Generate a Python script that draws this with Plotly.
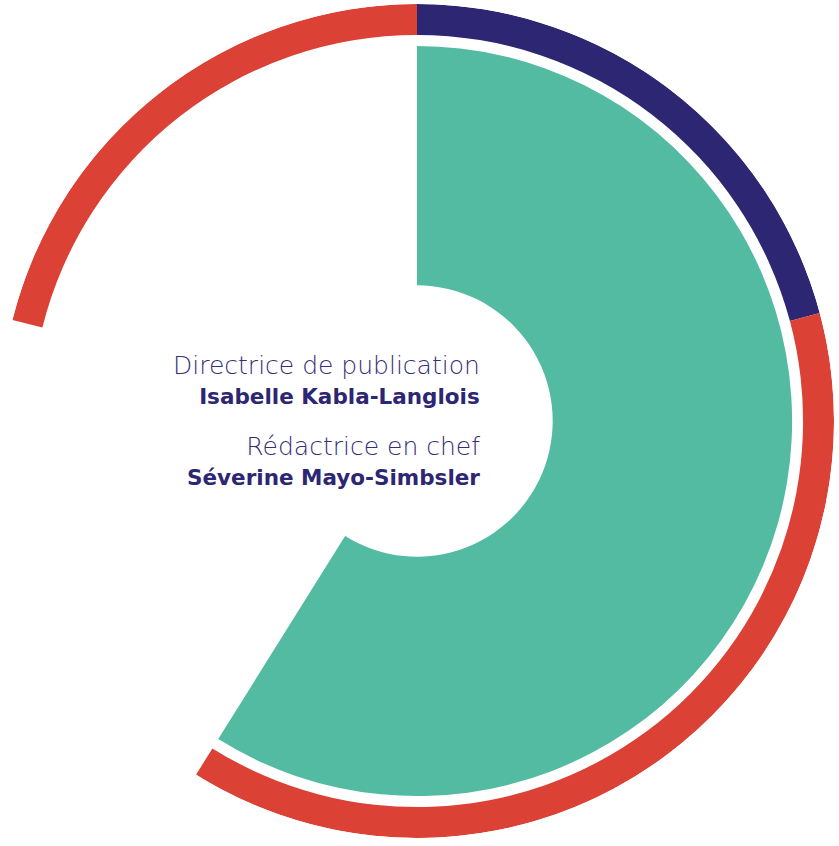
import plotly.graph_objects as go

# ---- data (angles in degrees, clockwise from 12 o'clock) ----
inner_labels = ["Publication"]
inner_start = [0]
inner_end = [212]

ring_labels = ["Direction", "Rédaction", "Rédaction (suite)"]
ring_start = [0, 75, 284]
ring_end = [75, 212, 360]

role_titles = ["Directrice de publication", "Rédactrice en chef"]
role_names = ["Isabelle Kabla-Langlois", "Séverine Mayo-Simbsler"]

# ---- styles ----
TEAL = "#53BBA2"
RED = "#DB4135"
NAVY = "#2D2672"
ring_colors = [NAVY, RED, RED]

W, H = 839, 846
CX, CY, R = 417, 421, 418
HOLE_R, TEAL_R = 136, 376
RING_IN, RING_OUT = 387, 418

fig = go.Figure()

fig.add_trace(go.Barpolar(
    theta=[(s + e) / 2 for s, e in zip(inner_start, inner_end)],
    width=[e - s for s, e in zip(inner_start, inner_end)],
    base=[HOLE_R] * len(inner_start),
    r=[TEAL_R - HOLE_R] * len(inner_start),
    marker=dict(color=TEAL, line=dict(width=0)),
    name=inner_labels[0],
    hoverinfo="skip",
))

fig.add_trace(go.Barpolar(
    theta=[(s + e) / 2 for s, e in zip(ring_start, ring_end)],
    width=[e - s for s, e in zip(ring_start, ring_end)],
    base=[RING_IN] * len(ring_start),
    r=[RING_OUT - RING_IN] * len(ring_start),
    marker=dict(color=ring_colors, line=dict(width=0)),
    text=ring_labels,
    hoverinfo="skip",
))

fig.update_layout(
    width=W, height=H,
    margin=dict(l=0, r=0, t=0, b=0),
    paper_bgcolor="white",
    plot_bgcolor="white",
    showlegend=False,
    polar=dict(
        domain=dict(x=[0, 2 * CX / W],
                    y=[1 - (CY + R) / H, 1 - (CY - R) / H]),
        bgcolor="white",
        bargap=0,
        radialaxis=dict(visible=False, range=[0, R], showgrid=False),
        angularaxis=dict(visible=False, direction="clockwise", rotation=90,
                         showgrid=False, showline=False),
    ),
)

block_y_px = [380, 461]
for title, name, ypx in zip(role_titles, role_names, block_y_px):
    fig.add_annotation(
        x=482 / W, y=1 - ypx / H, xref="paper", yref="paper",
        xanchor="right", yanchor="middle", align="right", showarrow=False,
        text=(f"<span style='font-size:25px;color:#332D7A'>{title}</span><br>"
              f"<b><span style='font-size:21.5px;color:{NAVY}'>{name}</span></b>"),
        font=dict(family="DejaVu Sans, sans-serif", size=23,
                  color="#332D7A", weight=300),
    )

fig.write_html(
    "out.html",
    config={"displayModeBar": False},
    post_script="document.body.style.margin='0';document.body.style.overflow='hidden';",
)
